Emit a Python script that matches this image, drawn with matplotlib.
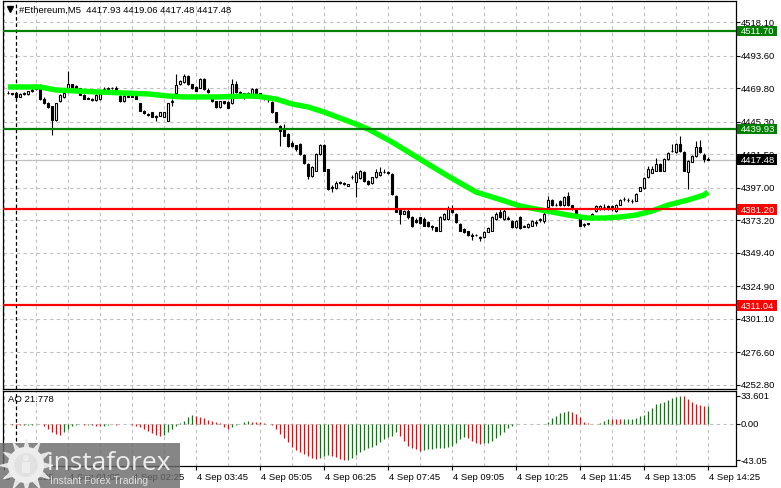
import matplotlib
matplotlib.use("Agg")
import matplotlib.pyplot as plt
from matplotlib.patches import Rectangle, Circle

plt.rcParams['font.family'] = ['Liberation Sans', 'DejaVu Sans']

# ---------------- data ----------------
symbol_title = "#Ethereum,M5  4417.93 4419.06 4417.48 4417.48"

open_ = [4466.5, 4466.0, 4466.0, 4463.5, 4465.5, 4465.5, 4467.5, 4469.0, 4471.0, 4462.0,
         4459.0, 4456.9, 4446.5, 4460.1, 4463.0, 4469.1, 4472.8, 4471.6, 4469.5, 4465.0,
         4462.5, 4462.0, 4461.0, 4461.5, 4468.5, 4469.0, 4469.5, 4470.0, 4464.2, 4460.1,
         4464.0, 4463.3, 4464.2, 4458.6, 4453.0, 4451.0, 4452.0, 4449.6, 4449.6, 4448.9,
         4446.0, 4459.5, 4466.5, 4472.8, 4474.0, 4478.9, 4472.5, 4470.3, 4469.9, 4476.4,
         4468.5, 4463.5, 4460.0, 4456.0, 4460.0, 4459.5, 4459.0, 4472.5, 4466.7, 4466.0,
         4465.5, 4465.5, 4469.1, 4466.0, 4464.0, 4462.0, 4459.4, 4452.0, 4442.3, 4440.0,
         4436.2, 4430.0, 4428.0, 4429.0, 4421.1, 4414.3, 4405.8, 4409.4, 4421.6, 4428.4,
         4410.6, 4397.7, 4396.7, 4400.9, 4400.2, 4398.2, 4404.5, 4401.0, 4404.0, 4408.2,
         4402.1, 4400.4, 4404.5, 4406.0, 4408.5, 4408.2, 4407.0, 4391.1, 4380.5, 4378.0,
         4380.2, 4375.3, 4373.5, 4375.3, 4374.0, 4372.0, 4369.2, 4368.0, 4365.5, 4374.1,
         4374.1, 4381.4, 4378.0, 4370.4, 4366.8, 4365.0, 4362.6, 4362.4, 4361.0, 4360.7,
         4364.8, 4365.5, 4374.1, 4379.0, 4374.1, 4374.5, 4372.8, 4368.0, 4375.3, 4368.4,
         4368.0, 4369.2, 4371.0, 4373.5, 4372.5, 4382.7, 4388.0, 4384.3, 4387.5, 4384.3,
         4391.2, 4384.0, 4381.4, 4375.3, 4369.5, 4371.0, 4374.1, 4380.2, 4381.4, 4382.6,
         4383.9, 4383.9, 4380.2, 4384.6, 4388.7, 4388.0, 4387.5, 4387.5, 4394.8, 4396.5,
         4404.5, 4408.0, 4409.4, 4414.3, 4409.4, 4418.0, 4424.0, 4422.8, 4428.9, 4423.3,
         4408.2, 4416.0, 4419.9, 4426.5, 4420.9, 4417.93]
high = [4467.5, 4466.5, 4466.5, 4466.0, 4467.0, 4468.0, 4469.5, 4472.8, 4472.5, 4463.0,
        4459.5, 4457.0, 4459.0, 4465.5, 4467.0, 4482.0, 4473.0, 4472.0, 4470.0, 4465.5,
        4463.5, 4462.5, 4465.5, 4466.0, 4470.5, 4470.5, 4470.8, 4471.0, 4464.5, 4464.5,
        4465.0, 4465.0, 4465.0, 4459.0, 4453.5, 4451.5, 4452.5, 4450.0, 4452.5, 4452.3,
        4459.0, 4462.0, 4480.0, 4476.0, 4480.0, 4479.5, 4473.0, 4471.0, 4477.0, 4477.0,
        4469.5, 4464.0, 4460.5, 4460.5, 4460.5, 4460.0, 4476.4, 4475.0, 4467.5, 4466.5,
        4467.0, 4469.5, 4469.5, 4466.5, 4465.0, 4463.0, 4460.0, 4452.5, 4443.0, 4443.5,
        4437.0, 4431.0, 4428.5, 4430.0, 4421.5, 4414.8, 4413.0, 4422.0, 4429.0, 4429.0,
        4411.0, 4399.0, 4401.6, 4401.8, 4401.0, 4400.0, 4406.0, 4409.0, 4410.0, 4409.0,
        4402.5, 4405.0, 4411.0, 4412.0, 4410.6, 4409.0, 4408.0, 4391.5, 4381.5, 4381.0,
        4381.4, 4376.0, 4375.0, 4375.8, 4375.5, 4372.5, 4370.0, 4368.5, 4376.0, 4378.5,
        4383.8, 4384.5, 4378.5, 4371.0, 4367.5, 4365.5, 4363.5, 4363.0, 4361.5, 4365.0,
        4368.5, 4376.5, 4379.0, 4381.4, 4381.4, 4376.0, 4373.5, 4373.3, 4376.0, 4370.0,
        4371.0, 4373.5, 4373.0, 4375.0, 4380.0, 4391.2, 4389.0, 4386.0, 4388.0, 4391.0,
        4393.5, 4384.5, 4382.0, 4376.0, 4371.0, 4371.5, 4378.5, 4384.5, 4384.5, 4385.0,
        4384.5, 4384.5, 4384.8, 4389.0, 4390.5, 4389.5, 4389.0, 4393.0, 4397.5, 4404.5,
        4413.0, 4413.0, 4419.0, 4414.8, 4418.5, 4423.0, 4428.9, 4430.0, 4434.5, 4424.0,
        4417.5, 4421.0, 4431.4, 4431.5, 4422.3, 4419.06]
low = [4465.5, 4464.5, 4461.8, 4463.0, 4465.0, 4465.0, 4467.0, 4468.5, 4461.0, 4458.0,
       4455.0, 4435.7, 4446.0, 4459.5, 4462.5, 4468.5, 4468.5, 4468.8, 4464.5, 4461.5,
       4461.5, 4460.5, 4460.5, 4461.0, 4468.0, 4468.5, 4468.8, 4467.5, 4459.8, 4459.8,
       4463.0, 4463.0, 4461.5, 4453.0, 4451.0, 4449.5, 4448.5, 4446.0, 4449.3, 4448.7,
       4446.0, 4456.9, 4465.5, 4472.0, 4473.5, 4472.0, 4469.0, 4467.5, 4469.5, 4468.5,
       4466.0, 4459.5, 4455.5, 4455.5, 4458.5, 4455.0, 4458.5, 4466.0, 4465.5, 4461.8,
       4465.0, 4465.0, 4465.5, 4463.5, 4461.0, 4459.5, 4451.5, 4444.5, 4427.7, 4434.5,
       4427.0, 4427.0, 4424.0, 4421.0, 4414.5, 4403.3, 4405.0, 4409.0, 4421.0, 4409.0,
       4395.5, 4393.6, 4396.0, 4399.8, 4399.0, 4398.0, 4403.5, 4390.0, 4403.5, 4401.5,
       4399.0, 4400.0, 4404.0, 4405.5, 4407.8, 4407.0, 4392.0, 4379.0, 4370.4, 4377.5,
       4374.0, 4368.5, 4371.0, 4370.4, 4368.7, 4368.0, 4366.0, 4365.0, 4365.0, 4373.5,
       4373.5, 4378.5, 4371.0, 4365.0, 4363.8, 4361.9, 4358.5, 4361.5, 4357.8, 4360.0,
       4364.3, 4365.0, 4373.5, 4375.0, 4373.5, 4373.5, 4367.5, 4367.5, 4366.8, 4368.0,
       4367.5, 4368.7, 4369.0, 4372.0, 4371.5, 4382.0, 4383.8, 4383.5, 4383.8, 4383.8,
       4383.5, 4380.5, 4377.0, 4368.7, 4368.5, 4369.5, 4373.0, 4379.5, 4381.0, 4380.5,
       4381.0, 4380.0, 4379.5, 4384.0, 4387.5, 4386.5, 4385.5, 4387.0, 4394.3, 4396.0,
       4404.0, 4407.5, 4409.0, 4409.0, 4409.0, 4417.5, 4423.0, 4422.3, 4423.0, 4409.0,
       4396.0, 4415.5, 4419.5, 4422.0, 4415.5, 4417.48]
close = [4466.0, 4465.5, 4463.0, 4465.5, 4466.5, 4467.5, 4468.5, 4471.5, 4461.8, 4458.6,
         4455.7, 4446.5, 4458.6, 4464.8, 4466.0, 4472.8, 4469.1, 4469.1, 4465.0, 4461.8,
         4461.8, 4461.0, 4465.0, 4465.5, 4469.0, 4469.5, 4469.5, 4467.9, 4460.1, 4464.2,
         4463.3, 4464.0, 4461.8, 4453.3, 4451.5, 4450.0, 4448.9, 4448.9, 4452.0, 4452.0,
         4458.6, 4460.5, 4472.0, 4475.2, 4478.9, 4472.8, 4470.0, 4467.9, 4476.4, 4469.1,
         4466.7, 4460.0, 4456.0, 4460.0, 4459.0, 4455.5, 4472.8, 4466.7, 4466.0, 4465.5,
         4466.0, 4469.1, 4466.0, 4464.0, 4462.5, 4461.5, 4452.0, 4444.8, 4438.7, 4435.0,
         4427.7, 4427.7, 4425.0, 4421.6, 4414.8, 4405.8, 4411.9, 4421.6, 4428.4, 4409.4,
         4396.0, 4397.0, 4400.2, 4400.2, 4399.5, 4399.7, 4405.0, 4408.0, 4409.4, 4402.1,
         4399.7, 4404.5, 4408.2, 4408.7, 4408.2, 4407.5, 4392.4, 4379.5, 4377.8, 4380.2,
         4375.3, 4369.2, 4371.6, 4371.0, 4369.2, 4369.2, 4368.0, 4365.5, 4375.3, 4377.8,
         4381.4, 4379.0, 4371.6, 4365.5, 4364.3, 4362.4, 4361.9, 4362.2, 4360.5, 4364.3,
         4367.8, 4375.3, 4377.8, 4375.3, 4380.0, 4374.1, 4368.0, 4372.8, 4367.2, 4368.8,
         4370.4, 4372.8, 4372.0, 4374.3, 4377.5, 4388.2, 4384.3, 4384.4, 4384.3, 4390.0,
         4384.0, 4381.5, 4377.8, 4369.2, 4370.4, 4370.5, 4377.7, 4383.9, 4383.9, 4382.7,
         4381.4, 4381.4, 4384.3, 4388.2, 4388.6, 4387.9, 4387.4, 4392.4, 4397.2, 4403.8,
         4410.7, 4410.7, 4414.3, 4409.4, 4418.0, 4422.3, 4423.8, 4428.9, 4423.5, 4409.4,
         4416.8, 4420.4, 4426.5, 4423.0, 4418.0, 4417.48]

ma_bar = [0, 8, 12, 23, 35, 40, 44, 52, 60, 63, 67, 71, 75, 79, 83, 87, 90, 96, 105,
          110, 117, 121, 125, 128, 132, 136, 140, 145, 149, 153, 157, 161, 165, 170, 174, 175]
ma_val = [4470.6, 4470.6, 4468.4, 4466.9, 4465.5, 4464.0, 4463.3, 4463.3, 4464.0, 4463.6,
          4461.8, 4458.2, 4456.0, 4452.3, 4447.9, 4443.5, 4439.9, 4430.4, 4414.3, 4405.5,
          4393.8, 4390.2, 4386.5, 4383.6, 4381.4, 4379.2, 4377.0, 4374.8, 4374.8, 4375.5,
          4377.0, 4379.9, 4384.3, 4388.0, 4391.6, 4393.8]

# Awesome Oscillator
ao_vals = [-0.5, -0.8, -1.2, -1.5, -1.0, -0.8, -0.6, -0.3, -0.4, -2.0,
           -6.0, -10.0, -12.0, -12.5, -10.0, -6.0, -2.0, -1.0, -0.5, -0.8,
           -0.6, -1.0, -2.0, -2.8, -2.0, -0.8, -0.5, -0.6, -0.3, -0.5,
           -0.4, -0.8, -2.0, -4.0, -6.0, -8.8, -10.8, -13.2, -14.0, -13.2,
           -10.0, -6.0, -2.0, 1.5, 4.0, 8.0, 10.8, 9.2, 8.0, 6.8,
           5.2, 4.0, 2.0, 0.8, -4.0, -6.0, -4.0, -1.2, 0.5, 2.0,
           4.0, 2.9, 2.6, 2.0, 1.2, 0.2, -0.8, -6.0, -12.0, -17.0,
           -21.0, -26.8, -30.6, -33.2, -35.4, -38.3, -40.2, -41.2, -40.2, -38.3,
           -37.2, -38.3, -39.5, -41.2, -43.05, -42.9, -40.7, -36.8, -33.3, -30.6,
           -28.0, -26.8, -24.9, -21.0, -18.0, -15.3, -13.8, -10.0, -14.0, -20.0,
           -26.0, -28.0, -30.0, -32.0, -30.7, -30.0, -29.8, -29.0, -28.6, -28.0,
           -27.5, -26.0, -22.0, -18.0, -16.0, -17.2, -20.0, -22.0, -23.2, -22.8,
           -22.0, -20.0, -17.2, -13.2, -9.2, -5.2, -2.0, -0.5, 0.3, 0.2,
           0.4, 0.2, 0.1, 0.3, 0.5, 2.8, 6.8, 10.0, 12.8, 14.8,
           15.0, 14.0, 12.0, 8.0, 2.8, 0.8, 0.4, 0.2, 0.8, 4.0,
           6.4, 6.0, 5.9, 5.8, 6.0, 6.1, 6.2, 7.2, 9.2, 11.2,
           15.2, 18.8, 23.2, 24.8, 26.7, 28.0, 30.7, 32.0, 33.601, 33.0,
           29.2, 26.7, 23.5, 22.0, 21.3, 21.778]
ao_label = "AO 21.778"
ao_ticks = [33.601, 0.0, -43.05]
ao_tick_labels = ["33.601", "0.00", "-43.05"]

price_ticks = [4518.10, 4493.60, 4469.80, 4445.30, 4421.50, 4397.00,
               4373.20, 4349.40, 4324.90, 4301.10, 4276.60, 4252.80]
levels = [4511.70, 4439.93, 4381.20, 4311.04]
level_colors = ['#008000', '#008000', '#FF0000', '#FF0000']
last_price = 4417.48

time_tick_bars = [-1, 15, 31, 47, 63, 79, 95, 111, 127, 143, 159, 175]
time_labels = ["3 Sep 2025", "4 Sep 01:05", "4 Sep 02:25", "4 Sep 03:45",
               "4 Sep 05:05", "4 Sep 06:25", "4 Sep 07:45", "4 Sep 09:05",
               "4 Sep 10:25", "4 Sep 11:45", "4 Sep 13:05", "4 Sep 14:25"]
grid_step = 8
separator_bar = 2

# ---------------- layout ----------------
W, H = 781, 489
fig = plt.figure(figsize=(W / 100, H / 100), dpi=100)
fig.patch.set_facecolor('white')

PX_PER_PRICE = 1.368
REF_PRICE, REF_Y = 4518.10, 23.0
def price_at(py):
    return REF_PRICE - (py - REF_Y) / PX_PER_PRICE

L, R = 3, 736
MT, MB = 2, 389.5
AT, AB = 392, 467
BAR_PX, X0 = 4.0, 8.0
xlo, xhi = (L - X0) / BAR_PX, (R - X0) / BAR_PX
AO_ZERO_Y, AO_PX = 425.0, 0.842

ax = fig.add_axes([L / W, 1 - MB / H, (R - L) / W, (MB - MT) / H])
ao = fig.add_axes([L / W, 1 - AB / H, (R - L) / W, (AB - AT) / H])
ax.set_xlim(xlo, xhi)
ax.set_ylim(price_at(MB), price_at(MT))
ao.set_xlim(xlo, xhi)
ao.set_ylim(-(AB - AO_ZERO_Y) / AO_PX, (AO_ZERO_Y - AT) / AO_PX)

for a in (ax, ao):
    for s in a.spines.values():
        s.set_color('black')
        s.set_linewidth(0.9)
    a.set_facecolor('white')

GRID = dict(color='#C0C0C0', lw=0.8, ls=(0, (3, 3)), zorder=0)
for p in price_ticks:
    ax.axhline(p, **GRID)
n = len(close)
for k in range(time_tick_bars[0], n + 8, grid_step):
    ax.axvline(k, **GRID)
    ao.axvline(k, **GRID)
ao.axhline(0, **GRID)

SEP = dict(color='black', lw=0.9, ls=(0, (3, 2)), zorder=1)
ax.axvline(separator_bar, **SEP)
ao.axvline(separator_bar, **SEP)

# last price line
ax.axhline(last_price, color='#C0C0C0', lw=0.9, zorder=1)

# candles
xs = list(range(n))
ax.vlines(xs, low, high, color='black', lw=0.8, zorder=2)
bottoms = [min(o, c) for o, c in zip(open_, close)]
heights = [max(abs(c - o), 0.02) for o, c in zip(open_, close)]
fcs = ['white' if c >= o else 'black' for o, c in zip(open_, close)]
ax.bar(xs, heights, 0.55, bottom=bottoms, color=fcs, edgecolor='black', lw=0.8, zorder=3)

# moving average
ax.plot(ma_bar, ma_val, color='#00FF00', lw=3.9, solid_capstyle='butt',
        solid_joinstyle='miter', zorder=4)

# level lines
for lv, col in zip(levels, level_colors):
    ax.axhline(lv, color=col, lw=1.6, zorder=5)

# right axis ticks and labels
ax.set_xticks([])
ax.yaxis.tick_right()
ax.set_yticks(price_ticks)
ax.tick_params(axis='y', direction='out', length=3, width=0.8, labelright=False, labelleft=False)
ytr = ax.get_yaxis_transform()
lab_x = 1 + 5 / (R - L)
FS = 6.8
for p in price_ticks:
    ax.text(lab_x, p, f"{p:.2f}", transform=ytr, fontsize=FS, va='center', ha='left',
            color='black', clip_on=False, zorder=6)
box_x = 1 + 1 / (R - L)
box_w = 40 / (R - L)
box_h = 10.5 / PX_PER_PRICE
for lv, col in zip(levels + [last_price], level_colors + ['black']):
    ax.add_patch(Rectangle((box_x, lv - box_h / 2), box_w, box_h, transform=ytr,
                           facecolor=col, edgecolor='none', clip_on=False, zorder=7))
    ax.text(lab_x, lv, f"{lv:.2f}", transform=ytr, fontsize=FS, va='center', ha='left',
            color='white', clip_on=False, zorder=8)

# title
ax.text((19 - L) / (R - L), (MB - 10) / (MB - MT), symbol_title, transform=ax.transAxes,
        fontsize=FS, va='center', ha='left', color='black')
ax.plot([(10 - L) / (R - L)], [(MB - 9.5) / (MB - MT)], marker='v', ms=4.2, color='black',
        transform=ax.transAxes, clip_on=False)

# AO histogram
ao_cols = ['#FF0000'] + ['#008000' if ao_vals[i] > ao_vals[i - 1] else '#FF0000'
                         for i in range(1, len(ao_vals))]
ao.vlines(range(len(ao_vals)), 0, ao_vals, colors=ao_cols, lw=0.9, zorder=3)
ao.yaxis.tick_right()
ao.set_yticks(ao_ticks)
ao.tick_params(axis='y', direction='out', length=3, width=0.8, labelright=False, labelleft=False)
aytr = ao.get_yaxis_transform()
for v, t in zip(ao_ticks, ao_tick_labels):
    ao.text(lab_x, v, t, transform=aytr, fontsize=FS, va='center', ha='left', clip_on=False)
ao.text((8 - L) / (R - L), (AB - 400) / (AB - AT), ao_label, transform=ao.transAxes,
        fontsize=FS, va='center', ha='left')

ao.set_xticks(time_tick_bars)
ao.tick_params(axis='x', direction='out', length=3, width=0.8, labelbottom=False)
axtr = ao.get_xaxis_transform()
for k, t in zip(time_tick_bars, time_labels):
    ao.text(k + 0.2, -(478 - AB) / (AB - AT), t, transform=axtr, fontsize=FS,
            va='center', ha='left', clip_on=False)

# watermark overlay
ov = fig.add_axes([0, 0, 1, 1], zorder=10)
ov.set_xlim(0, W)
ov.set_ylim(H, 0)
ov.axis('off')
ov.add_patch(Rectangle((0, 444), 180, 45, facecolor=(0.42, 0.42, 0.42), alpha=0.82,
                       edgecolor='none'))
ov.add_patch(Circle((26, 466), 15, facecolor='none', edgecolor=(0.93, 0.93, 0.93), lw=4.5))
ov.plot([26], [466], marker=(12, 1, 0), ms=38, color=(0.93, 0.93, 0.93), alpha=0.9)
ov.add_patch(Circle((26, 466), 10, facecolor=(0.5, 0.5, 0.5), edgecolor='none'))
ov.add_patch(Circle((26, 459), 3, facecolor=(0.93, 0.93, 0.93), edgecolor='none'))
ov.add_patch(Rectangle((22, 463), 8, 11, facecolor=(0.93, 0.93, 0.93), edgecolor='none'))
ov.text(47, 463, "instaforex", fontsize=19, color=(0.93, 0.93, 0.93), va='center',
        ha='left', family=['Open Sans', 'DejaVu Sans'])
ov.text(50, 481, "Instant Forex Trading", fontsize=7.5, color=(0.88, 0.88, 0.88),
        va='center', ha='left')

fig.savefig("out.png", dpi=100)
